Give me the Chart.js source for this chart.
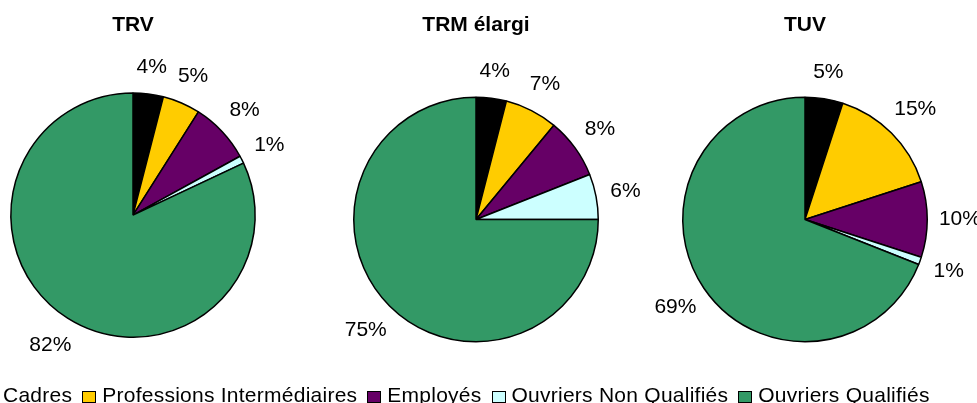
<!DOCTYPE html>
<html>
<head>
<meta charset="utf-8">
<script src="https://cdn.jsdelivr.net/npm/chart.js@4.4.1/dist/chart.umd.min.js"></script>
<style>
  html, body { margin: 0; padding: 0; background: #fff; }
  body { width: 977px; height: 403px; position: relative; overflow: hidden; font-family: "Liberation Sans", Arial, sans-serif; }
  canvas { position: absolute; top: 0; }
  #legend { position: absolute; left: -17px; top: 383px; white-space: nowrap; font-size: 21px; line-height: 24px; color: #000; letter-spacing: 0.25px; }
  #legend .item { display: inline-block; margin-right: 10px; }
  #legend .box { display: inline-block; width: 12px; height: 10px; border: 1px solid #000; margin-right: 6px; vertical-align: -1px; }
</style>
</head>
<body>
<canvas id="pie1" width="400" height="403" style="left:-67px"></canvas>
<canvas id="pie2" width="400" height="403" style="left:276px"></canvas>
<canvas id="pie3" width="400" height="403" style="left:605px"></canvas>
<div id="legend"></div>

<script>
const categories = ["Cadres", "Professions Intermédiaires", "Employés", "Ouvriers Non Qualifiés", "Ouvriers Qualifiés"];
const titles = ["TRV", "TRM élargi", "TUV"];
const trv = [4, 5, 8, 1, 82];
const trmElargi = [4, 7, 8, 6, 75];
const tuv = [5, 15, 10, 1, 69];

const couleurs = ["#000000", "#FFCC00", "#660066", "#CCFFFF", "#339966"];
const police = '"Liberation Sans", Arial, sans-serif';

// pourcentages autour des parts
const pctLabels = {
  id: "pctLabels",
  afterDatasetsDraw(chart) {
    const ctx = chart.ctx;
    const meta = chart.getDatasetMeta(0);
    const data = chart.data.datasets[0].data;
    ctx.save();
    ctx.font = "21px " + police;
    ctx.fillStyle = "#000";
    ctx.textAlign = "center";
    ctx.textBaseline = "middle";
    meta.data.forEach(function (arc, i) {
      const p = arc.getProps(["x", "y", "startAngle", "endAngle", "outerRadius"], true);
      const a = (p.startAngle + p.endAngle) / 2;
      const txt = data[i] + "%";
      const w = ctx.measureText(txt).width;
      const d = p.outerRadius + 18 + Math.abs(Math.cos(a)) * w * 0.35 + Math.abs(Math.sin(a)) * 7.5;
      ctx.fillText(txt, p.x + Math.cos(a) * d, p.y + Math.sin(a) * d);
    });
    ctx.restore();
  }
};

function makePie(id, titre, valeurs, padTitre, padBas) {
  new Chart(document.getElementById(id), {
    type: "pie",
    data: {
      labels: categories,
      datasets: [{
        data: valeurs,
        backgroundColor: couleurs,
        borderColor: "#000",
        borderWidth: 1.5,
        hoverOffset: 0
      }]
    },
    options: {
      responsive: false,
      animation: false,
      events: [],
      layout: { padding: { bottom: padBas } },
      plugins: {
        legend: { display: false },
        tooltip: { enabled: false },
        title: {
          display: true,
          text: titre,
          color: "#000",
          font: { family: police, size: 21, weight: "bold" },
          padding: { top: 13, bottom: padTitre }
        }
      }
    },
    plugins: [pctLabels]
  });
}

makePie("pie1", titles[0], trv, 54, 65);
makePie("pie2", titles[1], trmElargi, 58.3, 60.5);
makePie("pie3", titles[2], tuv, 58.3, 60.5);

let out = "";
for (let i = 0; i < categories.length; i++) {
  out += `<span class="item"><span class="box" style="background:${couleurs[i]}"></span>${categories[i]}</span>`;
}
document.getElementById("legend").innerHTML = out;
</script>
</body>
</html>
